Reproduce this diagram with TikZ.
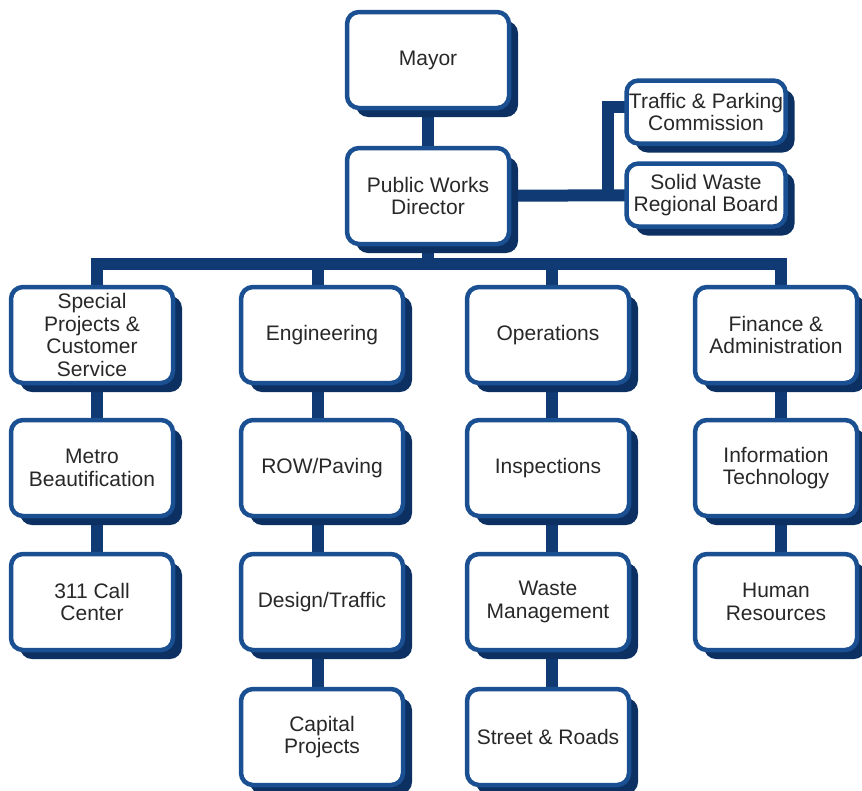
\documentclass[tikz,border=0pt]{standalone}
\usepackage{fontspec}
\setmainfont{Liberation Sans}
\usetikzlibrary{shadows}
\definecolor{boxblue}{RGB}{26,80,145}
\definecolor{shadowblue}{RGB}{12,48,98}
\definecolor{linkblue}{RGB}{16,58,115}
\definecolor{txtgray}{RGB}{40,40,40}
\pgfdeclarelayer{back}
\pgfdeclarelayer{conn}
\pgfsetlayers{back,conn,main}
\tikzset{
  orgbox/.style={draw=boxblue, line width=4.5pt, fill=white, rounded corners=12pt,
    minimum width=162pt, minimum height=96pt, inner sep=0pt, align=center,
    text=txtgray, font=\fontsize{21}{22.5}\selectfont,
    general shadow={fill=shadowblue, shadow xshift=9pt, shadow yshift=-9pt}},
  smallbox/.style={orgbox, minimum width=159pt, minimum height=63pt},
  link/.style={draw=linkblue, line width=12pt},
}
\begin{document}
\begin{tikzpicture}[x=1pt,y=-1pt]
\begin{pgfonlayer}{back}
\fill[white] (0,0) rectangle (862,790);
\end{pgfonlayer}
\useasboundingbox (0,0) rectangle (862,790);

\node[orgbox] (mayor) at (428,60) {Mayor};
\node[orgbox] (pwd) at (428,196) {Public Works\\Director};
\node[smallbox] (tpc) at (706,112) {Traffic \& Parking\\Commission};
\node[smallbox] (swrb) at (706,195) {Solid Waste\\Regional Board};

\node[orgbox] (sp) at (92,335) {Special\\Projects \&\\Customer\\Service};
\node[orgbox] (mb) at (92,468) {Metro\\Beautification};
\node[orgbox] (cc) at (92,602) {311 Call\\Center};

\node[orgbox] (eng) at (322,335) {Engineering};
\node[orgbox] (row) at (322,468) {ROW/Paving};
\node[orgbox] (dt) at (322,602) {Design/Traffic};
\node[orgbox] (cp) at (322,737) {Capital\\Projects};

\node[orgbox] (ops) at (548,335) {Operations};
\node[orgbox] (ins) at (548,468) {Inspections};
\node[orgbox] (wm) at (548,602) {Waste\\Management};
\node[orgbox] (sr) at (548,737) {Street \& Roads};

\node[orgbox] (fa) at (776,335) {Finance \&\\Administration};
\node[orgbox] (it) at (776,468) {Information\\Technology};
\node[orgbox] (hr) at (776,602) {Human\\Resources};

\coordinate (bus) at (428,264);
\coordinate (j) at (608,196);

\begin{pgfonlayer}{conn}
\draw[link] (mayor) -- (pwd);
\draw[link] (pwd) -- (bus);
\draw[link] (pwd.center) -- (swrb.center);
\draw[link] (j) |- ([yshift=5pt]tpc.center);
\draw[link] ([xshift=5pt]sp.center) |- (bus) -| ([xshift=5pt]fa.center);
\draw[link] ([xshift=-4pt]eng.center) -- ([xshift=-4pt]eng.center |- bus);
\draw[link] ([xshift=4pt]ops.center) -- ([xshift=4pt]ops.center |- bus);
\draw[link] ([xshift=5pt]sp.center) -- ([xshift=5pt]cc.center);
\draw[link] ([xshift=-4pt]eng.center) -- ([xshift=-4pt]cp.center);
\draw[link] ([xshift=4pt]ops.center) -- ([xshift=4pt]sr.center);
\draw[link] ([xshift=5pt]fa.center) -- ([xshift=5pt]hr.center);
\end{pgfonlayer}
\end{tikzpicture}
\end{document}
